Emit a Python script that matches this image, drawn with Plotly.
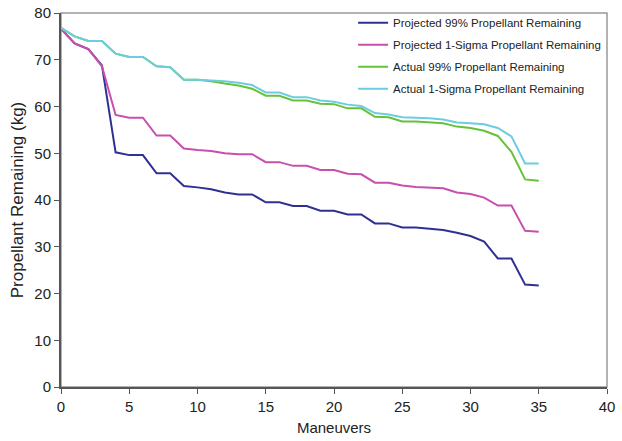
import plotly.graph_objects as go

maneuvers = list(range(36))

projected_99 = [76.6, 73.5, 72.3, 68.8, 50.2, 49.6, 49.6, 45.7, 45.7, 43.0,
                42.7, 42.3, 41.6, 41.2, 41.2, 39.5, 39.5, 38.7, 38.7, 37.7,
                37.7, 36.9, 36.9, 35.0, 35.0, 34.1, 34.1, 33.9, 33.6, 33.0,
                32.3, 31.1, 27.5, 27.5, 21.9, 21.7]

projected_1sigma = [76.6, 73.5, 72.3, 68.6, 58.2, 57.6, 57.6, 53.8, 53.8, 51.0,
                    50.7, 50.5, 50.0, 49.8, 49.8, 48.1, 48.1, 47.3, 47.3, 46.4,
                    46.4, 45.6, 45.5, 43.7, 43.7, 43.1, 42.8, 42.6, 42.5, 41.6,
                    41.3, 40.5, 38.8, 38.8, 33.4, 33.2]

actual_99 = [76.8, 75.0, 74.0, 74.0, 71.3, 70.6, 70.6, 68.6, 68.4, 65.7,
             65.7, 65.4, 64.9, 64.5, 63.8, 62.3, 62.3, 61.3, 61.3, 60.6,
             60.5, 59.6, 59.6, 57.8, 57.7, 56.8, 56.8, 56.6, 56.4, 55.7,
             55.4, 54.8, 53.7, 50.3, 44.4, 44.1]

actual_1sigma = [76.8, 75.0, 74.0, 74.0, 71.3, 70.6, 70.6, 68.6, 68.4, 65.7,
                 65.7, 65.6, 65.4, 65.1, 64.6, 63.0, 63.0, 62.0, 62.0, 61.3,
                 61.0, 60.4, 60.1, 58.6, 58.3, 57.7, 57.6, 57.5, 57.2, 56.6,
                 56.4, 56.2, 55.4, 53.6, 47.8, 47.8]

series = [
    ("Projected 99% Propellant Remaining", projected_99, "#2f3192"),
    ("Projected 1-Sigma Propellant Remaining", projected_1sigma, "#c94fae"),
    ("Actual 99% Propellant Remaining", actual_99, "#66c23a"),
    ("Actual 1-Sigma Propellant Remaining", actual_1sigma, "#6ccde0"),
]

fig = go.Figure()
for i, (name, vals, col) in enumerate(series):
    fig.add_trace(go.Scatter(x=maneuvers, y=vals, mode="lines", name=name,
                             legendgroup=f"g{i}",
                             line=dict(color=col, width=2)))

font_family = "Liberation Sans, Arial, sans-serif"

fig.update_layout(
    width=622, height=441,
    margin=dict(l=61, r=15, t=13, b=54, autoexpand=False),
    paper_bgcolor="white", plot_bgcolor="white",
    font=dict(family=font_family, color="#222222"),
    legend=dict(x=0.535, y=1.013, xanchor="left", yanchor="top",
                bgcolor="rgba(0,0,0,0)", font=dict(size=11.5, color="#222222"),
                tracegroupgap=3, itemwidth=30),
    showlegend=True,
    shapes=[dict(type="rect", xref="x domain", yref="y domain",
                 x0=0, x1=1, y0=0, y1=1, line=dict(color="#999999", width=1.5),
                 layer="below")],
)

fig.update_xaxes(range=[0, 40], tickvals=[0, 5, 10, 15, 20, 25, 30, 35, 40],
                 automargin=False,
                 showgrid=False, zeroline=False, showline=True,
                 linecolor="#555555", linewidth=2, ticks="outside", ticklen=5,
                 tickcolor="#555555", tickfont=dict(size=15, color="#222222"),
                 title=dict(text="Maneuvers", font=dict(size=15, color="#222222"),
                            standoff=8))
fig.update_yaxes(range=[0, 80], tickvals=[0, 10, 20, 30, 40, 50, 60, 70, 80],
                 automargin=False,
                 showgrid=False, zeroline=False, showline=True,
                 linecolor="#555555", linewidth=2, ticks="outside", ticklen=5,
                 tickcolor="#555555", tickfont=dict(size=15, color="#222222"),
                 title=dict(text="Propellant Remaining (kg)",
                            font=dict(size=17, color="#222222"), standoff=6))

fig.write_html("out.html",
               config={"displayModeBar": False},
               post_script="document.body.style.margin='0';document.body.style.overflow='hidden';")
